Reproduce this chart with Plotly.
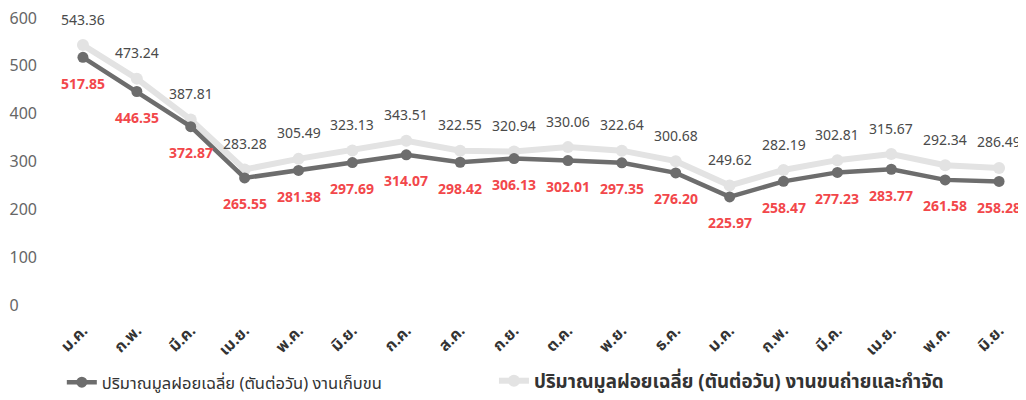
import plotly.graph_objects as go

months = ["ม.ค.", "ก.พ.", "มี.ค.", "เม.ย.", "พ.ค.", "มิ.ย.", "ก.ค.", "ส.ค.", "ก.ย.",
          "ต.ค.", "พ.ย.", "ธ.ค.", "ม.ค.", "ก.พ.", "มี.ค.", "เม.ย.", "พ.ค.", "มิ.ย."]
collect = [517.85, 446.35, 372.87, 265.55, 281.38, 297.69, 314.07, 298.42, 306.13,
           302.01, 297.35, 276.20, 225.97, 258.47, 277.23, 283.77, 261.58, 258.28]
transport = [543.36, 473.24, 387.81, 283.28, 305.49, 323.13, 343.51, 322.55, 320.94,
             330.06, 322.64, 300.68, 249.62, 282.19, 302.81, 315.67, 292.34, 286.49]
y_ticks = [0, 100, 200, 300, 400, 500, 600]
y_ticktext = ["0\u2007\u2007", "100", "200", "300", "400", "500", "600"]
name_collect = "ปริมาณมูลฝอยเฉลี่ย (ตันต่อวัน) งานเก็บขน"
name_transport = "ปริมาณมูลฝอยเฉลี่ย (ตันต่อวัน) งานขนถ่ายและกำจัด"

xs = list(range(len(months)))
font_family = "Tahoma, 'Noto Sans Thai', 'Noto Sans', 'DejaVu Sans', sans-serif"

fig = go.Figure()
fig.add_trace(go.Scatter(
    x=xs, y=transport, mode="lines+markers",
    name=name_transport, legend="legend2",
    line=dict(color="#e3e3e3", width=6),
    marker=dict(color="#e3e3e3", size=12),
))
fig.add_trace(go.Scatter(
    x=xs, y=collect, mode="lines+markers", name=name_collect, legend="legend",
    line=dict(color="#6d6d6d", width=4.5),
    marker=dict(color="#6d6d6d", size=11),
))

annotations = []
for x, v in zip(xs, collect):
    annotations.append(dict(x=x, y=v, xref="x", yref="y", text=f"{v:.2f}",
                            showarrow=False, yshift=-27,
                            font=dict(color="#f2474a", size=14, family=font_family, weight="bold")))
for x, v in zip(xs, transport):
    annotations.append(dict(x=x, y=v, xref="x", yref="y", text=f"{v:.2f}",
                            showarrow=False, yshift=25,
                            font=dict(color="#4a4a4a", size=14, family=font_family)))

fig.update_layout(
    width=1018, height=392,
    margin=dict(l=48, r=0, t=10, b=94),
    plot_bgcolor="white", paper_bgcolor="white",
    font=dict(family=font_family, color="#595959"),
    showlegend=True,
    legend=dict(orientation="h", x=0.006, y=-0.267, xanchor="left", yanchor="middle",
                font=dict(size=16.5, color="#333333"),
                borderwidth=0, bgcolor="rgba(0,0,0,0)"),
    legend2=dict(orientation="h", x=0.4515, y=-0.267, xanchor="left", yanchor="middle",
                 font=dict(size=18.8, color="#333333", weight="bold"),
                 borderwidth=0, bgcolor="rgba(0,0,0,0)"),
    annotations=annotations,
    xaxis=dict(range=[-0.5, 17.5], tickmode="array", tickvals=xs, ticktext=months,
               tickangle=-45, showgrid=False, zeroline=False, showline=False,
               automargin=False, ticklabelstandoff=12,
               tickfont=dict(size=16, color="#333333", weight="bold")),
    yaxis=dict(range=[0, 600], tickmode="array", tickvals=y_ticks, ticktext=y_ticktext,
               showgrid=False, zeroline=False, showline=False, automargin=False,
               ticklabeloverflow="allow",
               tickfont=dict(size=16, color="#666666"), ticklabelstandoff=18),
)

fig.write_html("out.html")
